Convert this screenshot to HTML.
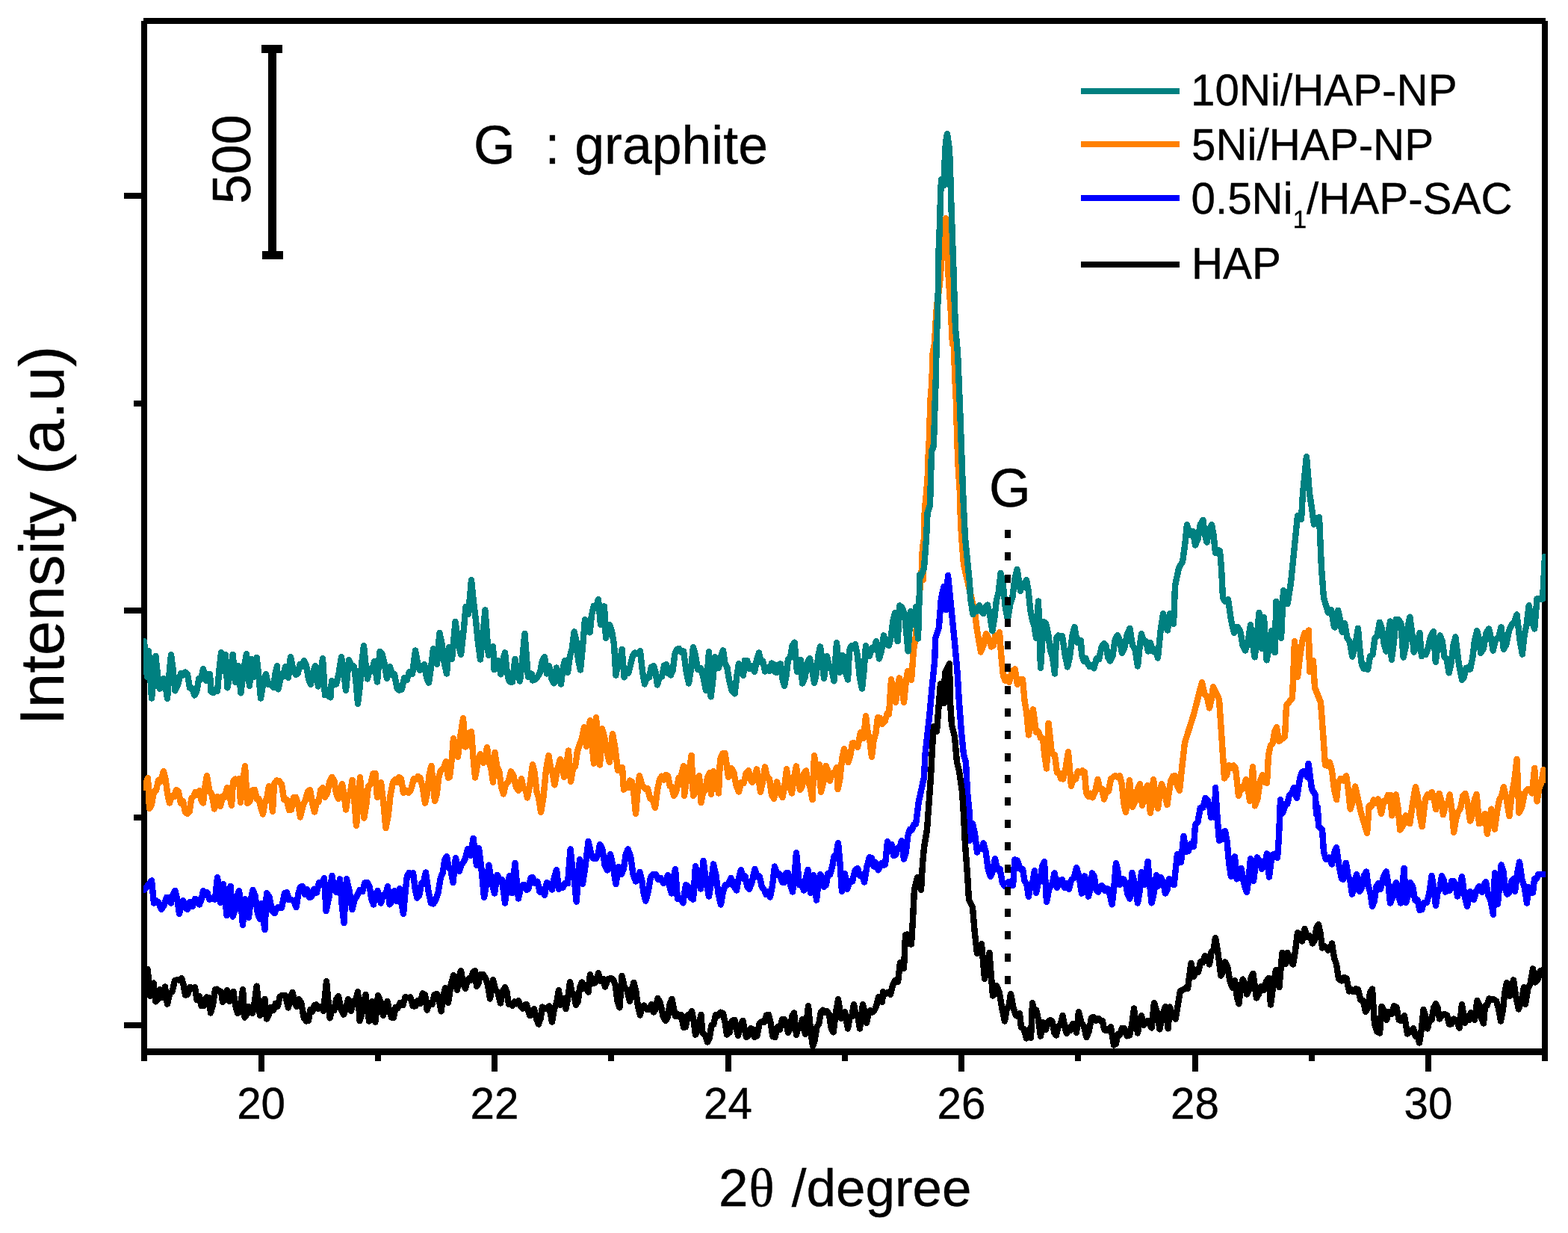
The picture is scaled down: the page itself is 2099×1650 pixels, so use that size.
<!DOCTYPE html>
<html><head><meta charset="utf-8"><title>XRD</title>
<style>
html,body{margin:0;padding:0;background:#fff;}
svg{display:block;}
text{font-family:"Liberation Sans",sans-serif;fill:#000;stroke:#000;stroke-width:0.4px;}
</style></head><body>
<svg width="2099" height="1650" viewBox="0 0 2099 1650">
<rect x="0" y="0" width="2099" height="1650" fill="#fff"/>

<g fill="#000" shape-rendering="crispEdges">
<rect x="189" y="28" width="8" height="1392"/>
<rect x="2064" y="28" width="8" height="1392"/>
<rect x="192" y="24" width="1877" height="8"/>
<rect x="189" y="1403" width="1883" height="9"/>
<rect x="346" y="1404" width="8" height="30"/>
<rect x="502" y="1404" width="8" height="16"/>
<rect x="658" y="1404" width="8" height="30"/>
<rect x="814" y="1404" width="8" height="16"/>
<rect x="971" y="1404" width="8" height="30"/>
<rect x="1127" y="1404" width="8" height="16"/>
<rect x="1283" y="1404" width="8" height="30"/>
<rect x="1439" y="1404" width="8" height="16"/>
<rect x="1596" y="1404" width="8" height="30"/>
<rect x="1752" y="1404" width="8" height="16"/>
<rect x="1908" y="1404" width="8" height="30"/>
<rect x="166" y="258" width="27" height="8"/>
<rect x="179" y="536" width="14" height="8"/>
<rect x="166" y="813" width="27" height="8"/>
<rect x="179" y="1090" width="14" height="8"/>
<rect x="166" y="1368" width="27" height="8"/>
<rect x="359" y="62" width="11" height="282"/>
<rect x="350" y="60" width="28" height="11"/>
<rect x="351" y="336" width="28" height="11"/>
<rect x="1447" y="118" width="132" height="8" fill="#008080"/>
<rect x="1447" y="189" width="132" height="8" fill="#ff8000"/>
<rect x="1447" y="261" width="132" height="8" fill="#0000ff"/>
<rect x="1447" y="350" width="132" height="8" fill="#000"/>
</g>
<clipPath id="cp"><rect x="192" y="28" width="1877" height="1384"/></clipPath>
<g clip-path="url(#cp)" fill="none" stroke-width="8.4" stroke-linejoin="round" stroke-linecap="round" shape-rendering="crispEdges">
<polyline stroke="#ff8000" points="193.0,1054.0 198.0,1041.0 200.0,1082.0 203.0,1076.7 206.0,1059.2 209.0,1057.9 212.0,1044.0 215.0,1046.0 219.0,1032.0 221.7,1043.3 224.3,1063.2 227.0,1074.6 230.0,1065.3 233.0,1066.3 236.0,1057.0 239.0,1059.4 242.0,1074.9 245.0,1072.1 248.0,1087.1 251.0,1089.0 253.7,1085.8 256.3,1068.5 259.0,1066.0 261.7,1059.9 264.3,1064.0 267.0,1058.0 269.5,1071.1 272.0,1074.6 274.5,1052.7 277.0,1038.0 280.3,1057.9 283.7,1063.5 287.0,1082.4 291.0,1066.0 295.0,1079.0 298.0,1065.5 301.0,1067.0 304.0,1054.0 307.0,1062.2 310.0,1078.0 312.0,1046.0 314.7,1042.5 317.3,1046.2 320.0,1042.0 322.0,1074.0 325.0,1046.5 328.0,1025.0 331.0,1075.0 334.3,1072.3 337.7,1057.6 341.0,1057.0 343.7,1069.1 346.3,1068.8 349.0,1080.0 352.0,1089.4 354.7,1073.1 357.3,1068.2 360.0,1052.0 362.5,1064.6 365.0,1086.0 367.0,1049.0 370.3,1044.5 373.6,1045.0 377.0,1049.6 380.3,1070.0 383.6,1069.7 387.0,1084.0 390.0,1083.5 393.0,1067.3 396.0,1067.0 399.0,1075.9 402.0,1093.4 405.5,1078.4 409.0,1070.0 412.0,1059.4 415.0,1057.0 418.0,1074.7 421.0,1086.6 423.8,1073.0 426.5,1073.3 429.2,1057.2 432.0,1054.0 435.0,1067.0 438.1,1061.2 441.3,1045.4 444.4,1040.0 447.3,1044.5 450.1,1062.2 453.0,1069.0 455.5,1056.1 458.0,1049.0 460.5,1062.5 463.0,1083.4 465.9,1064.8 468.7,1061.3 471.6,1044.0 474.3,1070.9 477.0,1105.0 479.5,1076.9 482.0,1040.0 484.7,1070.6 487.4,1094.6 490.2,1077.7 493.0,1052.0 496.2,1049.2 499.4,1035.5 502.6,1035.0 505.0,1067.0 507.5,1062.4 510.0,1047.0 513.2,1073.7 516.4,1108.0 519.6,1091.8 522.8,1062.8 526.0,1047.0 528.8,1043.2 531.5,1047.1 534.2,1040.1 537.0,1042.0 540.0,1061.0 543.3,1057.5 546.7,1060.9 550.0,1057.0 554.0,1042.0 556.8,1043.1 559.6,1039.1 562.4,1041.0 565.7,1053.5 569.0,1074.6 571.8,1062.0 574.6,1037.2 577.4,1025.0 582.0,1072.0 584.7,1062.8 587.3,1040.2 590.0,1031.0 593.5,1029.1 597.0,1019.0 600.0,1041.0 602.0,1040.0 604.5,1018.6 607.0,988.0 610.0,1005.0 613.0,1012.6 616.5,984.0 620.0,961.0 623.0,999.4 625.7,997.2 628.3,980.4 631.0,979.0 633.5,1013.7 636.0,1040.4 639.5,1021.1 643.0,1009.0 647.0,1021.0 649.5,1014.1 652.0,1000.0 654.7,1020.1 657.3,1027.8 660.0,1047.0 662.4,1007.0 665.3,1025.7 668.2,1031.9 671.1,1052.9 674.0,1062.4 677.3,1048.8 680.7,1045.8 684.0,1032.4 687.3,1037.5 690.7,1052.7 694.0,1058.0 698.0,1042.0 700.7,1055.1 703.3,1055.9 706.0,1067.4 709.5,1048.9 713.0,1023.0 715.8,1035.0 718.5,1060.1 721.2,1067.8 724.0,1087.0 727.5,1066.2 730.9,1031.1 734.4,1011.0 737.1,1027.5 739.7,1034.2 742.4,1050.4 746.2,1029.9 750.0,1016.0 752.5,1022.9 755.0,1040.0 758.0,1025.8 761.0,1004.6 764.0,1046.0 767.0,1029.0 770.0,1026.0 773.0,1004.8 776.0,996.0 779.0,988.1 782.0,973.0 785.0,999.0 787.5,978.0 790.0,964.0 792.5,996.7 795.0,1021.6 798.0,960.0 800.5,995.6 803.0,1023.4 806.0,975.0 809.3,986.8 812.7,1007.8 816.0,1020.0 820.0,982.0 823.5,1001.3 827.0,1031.0 830.0,1026.8 833.0,1027.0 835.0,1056.6 837.8,1049.5 840.5,1054.1 843.2,1044.6 846.0,1046.0 848.5,1062.9 851.0,1089.0 853.5,1060.0 856.0,1038.0 859.0,1049.4 862.0,1054.0 864.5,1056.3 867.0,1055.0 870.3,1068.6 873.7,1069.5 877.0,1081.0 880.0,1057.3 883.0,1043.0 885.8,1038.7 888.5,1043.6 891.2,1036.7 894.0,1038.0 896.7,1051.8 899.3,1052.8 902.0,1065.0 905.2,1059.6 908.5,1040.8 911.8,1038.9 915.0,1025.0 916.0,1065.0 919.2,1042.6 922.4,1032.7 925.6,1011.0 928.0,1065.0 930.7,1061.1 933.3,1042.9 936.0,1038.0 938.4,1074.0 941.3,1060.3 944.2,1057.3 947.1,1039.8 950.0,1034.0 952.0,1063.0 955.0,1032.0 958.5,1043.5 962.0,1061.4 964.0,1016.4 967.3,1008.3 970.6,1008.0 975.0,1040.0 979.0,1028.0 982.3,1033.5 985.7,1051.7 989.0,1059.4 992.2,1047.2 995.5,1048.1 998.8,1034.6 1002.0,1031.0 1004.5,1043.2 1007.0,1047.0 1010.0,1042.3 1013.0,1029.4 1015.5,1041.9 1018.0,1060.0 1021.0,1046.3 1024.0,1026.4 1027.0,1040.0 1030.0,1042.3 1033.0,1063.4 1036.0,1069.0 1040.0,1046.4 1043.8,1060.8 1047.6,1067.0 1050.3,1051.8 1053.0,1029.4 1056.5,1049.9 1060.0,1061.4 1063.0,1039.7 1066.0,1025.4 1068.5,1044.9 1071.0,1057.0 1073.7,1052.7 1076.3,1035.2 1079.0,1031.4 1081.9,1047.2 1084.7,1053.9 1087.6,1070.0 1090.0,1011.4 1094.0,1040.0 1097.0,1023.0 1099.0,1060.0 1102.3,1046.9 1105.6,1025.0 1108.3,1031.2 1111.0,1045.0 1114.0,1034.5 1117.0,1036.9 1120.0,1027.0 1121.6,1056.0 1124.4,1042.1 1127.2,1015.3 1130.0,1002.0 1132.8,1015.7 1135.6,1020.0 1138.3,1010.7 1141.0,994.6 1144.5,994.5 1148.0,1000.0 1152.0,980.0 1156.0,988.0 1159.0,958.0 1161.7,980.3 1164.3,990.7 1167.0,1013.0 1169.7,990.0 1172.3,981.4 1175.0,960.0 1178.0,960.7 1181.0,969.0 1184.5,965.5 1188.0,954.0 1190.0,956.0 1193.0,909.4 1196.0,929.7 1199.0,940.0 1201.5,918.5 1204.0,907.4 1207.0,919.1 1210.0,940.0 1212.5,914.7 1215.0,898.0 1217.5,908.0 1220.0,910.0 1223.0,870.0 1226.0,850.0 1234.0,760.0 1235.0,730.0 1236.0,776.0 1237.0,700.0 1238.0,680.0 1240.0,660.0 1241.6,640.0 1243.0,600.0 1244.4,580.0 1245.0,540.0 1247.6,510.0 1248.0,476.0 1251.0,460.0 1252.0,440.0 1254.0,410.0 1258.0,380.0 1261.0,340.0 1264.0,304.0 1266.0,292.0 1268.0,320.0 1269.0,360.0 1271.0,390.0 1273.0,420.0 1275.0,460.0 1277.0,460.0 1278.0,500.0 1280.0,540.0 1281.0,580.0 1282.4,620.0 1285.0,660.0 1286.0,700.0 1288.0,730.0 1290.0,756.0 1292.0,764.0 1305.0,820.0 1308.0,844.0 1313.0,872.4 1316.5,863.3 1320.0,848.0 1323.5,853.9 1327.0,865.6 1329.8,863.7 1332.5,850.6 1335.2,854.1 1338.0,846.0 1340.5,880.1 1343.0,904.0 1345.7,910.9 1348.3,906.4 1351.0,913.0 1354.8,898.8 1358.6,895.4 1362.0,916.0 1365.5,909.4 1369.0,909.4 1371.7,938.9 1374.3,954.6 1377.0,983.4 1380.0,963.4 1383.0,949.4 1387.0,980.0 1390.0,978.8 1393.0,987.5 1396.0,988.0 1398.5,1012.5 1401.0,1028.4 1403.6,968.0 1408.0,1008.0 1412.0,1010.4 1415.0,1034.0 1417.7,1034.3 1420.3,1042.0 1423.0,1042.4 1426.5,1028.6 1430.0,1006.0 1434.0,1052.0 1437.0,1041.5 1440.0,1042.4 1443.0,1032.0 1446.0,1034.1 1449.0,1031.3 1452.0,1033.4 1454.0,1061.0 1456.8,1065.8 1459.6,1061.7 1462.4,1067.4 1466.0,1060.0 1469.6,1043.0 1472.4,1056.4 1475.2,1055.8 1478.0,1069.4 1481.0,1057.9 1484.0,1058.8 1487.0,1042.8 1490.0,1040.0 1493.0,1037.9 1496.0,1040.0 1499.0,1038.0 1501.7,1049.1 1504.3,1074.8 1507.0,1087.0 1509.5,1070.2 1512.0,1044.0 1516.0,1080.0 1519.3,1073.2 1522.7,1056.0 1526.0,1049.0 1529.0,1078.0 1532.5,1060.9 1536.0,1051.0 1540.0,1088.0 1544.0,1043.0 1547.0,1067.2 1550.0,1082.0 1552.5,1061.9 1555.0,1049.0 1558.7,1059.1 1562.4,1077.0 1567.0,1046.0 1570.0,1038.8 1573.0,1038.0 1576.0,1051.3 1579.0,1058.0 1583.0,1020.0 1586.0,994.0 1598.0,956.0 1609.0,913.0 1612.3,928.5 1615.7,932.1 1619.0,947.4 1621.5,936.9 1624.0,919.0 1632.0,936.0 1635.0,980.0 1639.0,1041.4 1642.0,1037.6 1645.0,1024.0 1648.0,1028.3 1651.0,1024.4 1654.0,1028.0 1658.0,1065.0 1661.3,1053.6 1664.7,1055.4 1668.0,1043.0 1670.5,1053.2 1673.0,1072.0 1677.0,1026.0 1680.0,1078.4 1683.3,1069.3 1686.7,1045.7 1690.0,1037.0 1693.0,1046.6 1696.0,1048.0 1698.0,1011.0 1700.8,997.5 1703.5,995.4 1706.2,979.1 1709.0,973.0 1712.0,992.0 1720.0,986.0 1722.0,944.0 1730.0,934.0 1733.0,858.0 1737.0,906.0 1740.5,875.9 1744.0,855.0 1746.7,846.7 1749.3,850.4 1752.0,843.6 1753.0,899.0 1755.5,895.0 1758.0,884.0 1760.0,920.0 1768.0,940.0 1771.0,980.0 1774.0,1024.0 1777.0,1024.6 1780.0,1020.0 1783.0,1031.1 1786.0,1056.1 1789.0,1069.0 1789.1,1070.2 1791.3,1047.7 1794.9,1041.7 1798.6,1044.5 1802.2,1038.3 1804.9,1057.5 1807.6,1082.6 1810.9,1072.6 1814.2,1052.5 1821.8,1087.3 1830.1,1114.9 1832.7,1078.2 1835.7,1078.9 1838.7,1070.5 1841.7,1075.2 1844.7,1069.5 1849.1,1088.8 1852.4,1072.1 1855.3,1072.1 1858.2,1063.8 1861.1,1064.0 1863.3,1091.4 1866.0,1080.7 1868.7,1063.4 1871.5,1081.6 1874.2,1110.6 1878.0,1105.2 1881.8,1091.3 1884.6,1099.8 1887.3,1102.3 1891.1,1074.6 1894.9,1053.1 1897.8,1065.6 1900.7,1091.5 1903.7,1106.2 1908.0,1069.5 1910.9,1063.4 1913.8,1067.1 1916.7,1060.1 1919.5,1068.1 1922.2,1083.3 1926.6,1061.8 1929.3,1071.5 1932.0,1090.3 1934.9,1077.8 1937.8,1077.2 1940.7,1063.4 1943.5,1084.0 1946.2,1113.8 1948.9,1097.3 1951.7,1086.9 1954.9,1082.3 1958.2,1065.5 1961.5,1061.8 1964.7,1075.9 1968.0,1098.6 1970.9,1091.2 1973.8,1070.3 1976.7,1062.9 1980.0,1102.3 1983.8,1100.7 1987.7,1089.1 1990.9,1116.0 1993.7,1096.2 1996.4,1082.6 2000.8,1109.5 2004.0,1086.3 2007.3,1069.5 2010.0,1066.0 2012.8,1053.1 2016.6,1068.3 2020.4,1092.0 2023.8,1062.7 2027.2,1045.0 2030.6,1016.0 2033.5,1087.7 2037.1,1080.2 2040.8,1062.1 2044.4,1056.4 2047.7,1056.4 2050.9,1061.5 2054.2,1028.0 2057.5,1072.4 2060.4,1054.6 2063.3,1047.7 2066.2,1030.2 2068.4,1043.7"/>
<polyline stroke="#008080" points="193.0,858.0 197.0,906.0 199.0,871.0 203.0,934.4 205.7,909.2 208.4,878.0 211.0,903.0 213.6,921.6 216.3,918.6 219.0,908.0 221.5,916.5 224.0,935.0 226.5,902.1 229.0,876.0 231.7,896.7 234.4,924.4 238.2,915.7 242.0,901.0 245.0,903.5 248.0,899.6 251.0,902.0 254.0,920.4 257.2,921.3 260.4,930.4 263.3,925.2 266.2,908.2 269.1,908.6 272.0,895.0 276.0,911.0 278.5,902.5 281.0,902.0 282.4,925.4 285.3,927.0 288.1,923.4 291.0,925.0 293.5,896.0 296.0,873.4 299.6,898.0 302.0,876.0 304.4,920.4 308.0,901.2 311.6,876.0 315.0,913.0 319.0,891.0 322.4,927.4 326.2,896.1 330.0,875.0 334.0,918.0 337.0,882.0 340.0,906.0 343.6,880.0 346.3,903.6 349.0,934.4 352.5,913.9 356.0,902.0 359.0,916.0 362.5,915.2 366.0,920.0 368.5,901.6 371.0,891.0 372.4,922.4 375.6,908.3 378.8,905.3 382.0,892.0 386.0,907.0 389.0,879.0 392.5,896.0 396.0,903.0 398.8,901.1 401.5,889.0 404.2,892.3 407.0,884.0 410.0,890.5 413.0,908.8 416.0,915.6 419.0,900.0 422.0,891.0 426.0,918.4 429.0,903.0 432.0,881.0 435.0,930.0 438.7,929.9 442.4,933.4 444.0,911.0 447.0,916.1 450.0,915.6 453.5,901.6 457.0,879.0 460.0,898.5 463.0,924.0 467.0,883.0 470.5,890.1 474.0,892.0 476.5,912.4 479.0,941.6 481.7,919.4 484.3,886.6 487.0,864.0 489.5,889.1 492.0,908.4 495.0,895.4 498.0,898.2 501.0,885.0 505.0,912.4 508.4,872.0 511.7,875.6 515.0,890.0 518.0,908.0 522.0,892.0 525.1,903.4 528.2,902.4 531.3,920.6 534.4,923.6 537.8,922.8 541.2,906.8 544.6,910.1 548.0,899.0 552.0,902.0 556.0,870.6 559.0,887.1 562.0,897.0 565.0,895.3 568.0,889.0 571.0,906.7 574.0,913.6 577.0,893.6 580.0,868.0 582.5,881.7 585.0,889.0 588.4,847.0 591.6,861.5 594.8,886.9 598.0,901.6 598.0,901.6 601.0,866.0 605.0,882.0 609.6,832.0 613.3,859.4 617.0,876.0 620.3,847.3 623.6,812.0 627.0,822.0 631.0,776.0 634.0,805.9 637.0,830.0 640.0,860.8 643.0,882.4 646.2,852.3 649.4,816.4 654.0,877.0 657.0,874.1 660.0,865.0 661.6,896.0 664.3,887.2 667.0,884.0 670.4,902.4 673.2,883.0 676.0,873.4 678.5,897.2 681.0,910.0 683.5,912.8 686.0,912.4 689.4,882.0 692.7,899.6 696.0,911.4 699.2,883.1 702.4,848.0 707.0,906.0 709.5,901.3 712.0,902.0 713.0,910.4 716.5,909.4 720.0,905.0 723.0,899.7 726.0,884.3 729.0,879.0 732.0,901.4 735.0,891.0 738.3,907.8 741.6,914.4 745.0,893.6 748.0,907.4 751.0,915.4 753.5,895.4 756.0,884.0 760.0,900.0 762.9,877.9 765.7,868.8 768.6,845.4 771.4,857.5 774.2,884.2 777.0,896.4 780.0,865.7 783.0,829.0 786.3,842.9 789.6,846.4 792.0,823.0 795.0,810.7 798.0,812.7 801.0,802.0 804.0,836.0 806.5,818.8 809.0,811.4 811.0,854.0 813.5,840.0 816.0,836.0 819.0,844.4 822.0,862.0 824.4,903.6 827.1,888.6 829.9,885.8 832.6,869.0 835.6,906.4 838.4,898.0 841.2,900.9 844.0,890.0 847.0,877.2 850.0,873.6 853.5,874.9 857.0,871.4 860.0,898.8 863.0,915.4 866.0,906.4 869.0,906.4 872.0,892.6 875.0,891.0 877.5,898.9 880.0,916.4 883.0,906.2 886.0,905.5 889.0,890.6 892.0,889.0 895.0,901.4 898.0,903.4 900.7,896.9 903.3,875.6 906.0,869.0 909.0,867.8 912.0,873.0 915.0,871.4 918.5,897.5 922.0,914.4 925.0,895.4 928.0,866.0 931.0,877.0 934.0,896.0 938.0,894.0 941.5,906.2 945.0,924.0 949.0,872.4 951.6,932.4 954.3,910.3 957.0,879.4 959.5,891.8 962.0,894.0 965.0,879.1 968.0,870.4 970.7,888.5 973.3,892.6 976.0,910.0 979.8,924.3 983.6,928.4 986.3,905.2 989.0,888.0 992.0,892.2 995.0,904.0 997.0,884.0 1000.2,884.1 1003.5,894.9 1006.8,891.2 1010.0,899.0 1013.0,883.3 1016.0,873.6 1018.7,886.3 1021.3,884.9 1024.0,898.4 1027.0,892.9 1030.0,897.7 1033.0,887.5 1036.0,889.0 1037.0,899.0 1039.7,899.8 1042.3,889.2 1045.0,888.4 1047.5,908.3 1050.0,918.0 1052.5,904.9 1055.0,882.0 1057.9,879.7 1060.7,863.8 1063.6,859.6 1067.0,899.0 1069.5,895.1 1072.0,883.0 1074.0,914.4 1077.3,907.5 1080.7,886.9 1084.0,881.0 1087.0,894.7 1090.0,914.0 1092.7,902.0 1095.3,877.5 1098.0,865.4 1100.5,882.6 1103.0,908.0 1107.0,878.0 1110.1,892.6 1113.3,895.2 1116.4,911.4 1120.0,860.4 1124.0,900.0 1128.0,877.0 1131.5,898.2 1135.0,909.6 1137.0,870.0 1139.7,864.3 1142.3,868.2 1145.0,862.4 1148.0,878.5 1151.0,907.0 1154.0,921.4 1156.5,898.0 1159.0,864.0 1161.5,876.1 1164.0,878.0 1167.0,866.9 1170.0,868.6 1173.0,858.0 1177.0,881.4 1180.0,870.8 1183.0,850.4 1186.5,861.7 1190.0,864.0 1192.7,852.3 1195.3,831.5 1198.0,820.0 1201.6,858.0 1204.4,810.4 1207.7,813.3 1211.0,822.0 1215.6,871.4 1219.0,818.0 1221.5,823.2 1224.0,836.0 1226.0,812.0 1229.0,854.4 1230.6,800.0 1231.0,790.0 1231.0,769.0 1232.4,772.0 1237.0,760.0 1240.0,720.0 1241.6,686.0 1245.0,676.0 1246.0,640.0 1247.0,604.0 1249.6,598.0 1250.4,580.0 1251.6,540.0 1253.0,500.0 1253.6,460.0 1255.0,420.0 1256.0,380.0 1256.4,340.0 1258.0,300.0 1259.0,264.0 1260.0,240.0 1264.0,248.0 1264.4,220.0 1266.0,190.0 1268.0,179.0 1271.0,200.0 1272.4,240.0 1273.6,280.0 1275.0,320.0 1276.4,360.0 1277.6,400.0 1279.0,440.0 1281.0,460.0 1282.4,480.0 1284.0,520.0 1285.6,560.0 1287.0,600.0 1288.4,640.0 1290.0,680.0 1292.0,720.0 1295.0,750.0 1298.0,780.0 1299.0,800.0 1302.4,822.0 1305.3,814.6 1308.1,818.1 1311.0,810.0 1313.7,818.8 1316.4,821.0 1319.2,812.4 1322.0,809.6 1325.2,823.4 1328.4,844.4 1331.2,827.9 1334.0,802.9 1336.8,791.7 1339.6,767.0 1342.7,782.7 1345.9,813.3 1349.0,829.0 1352.2,809.1 1355.3,799.9 1358.4,774.6 1361.6,762.0 1366.0,791.0 1368.7,780.7 1371.3,785.8 1374.0,776.0 1376.7,790.9 1379.3,816.5 1382.0,830.0 1384.5,837.2 1387.0,854.0 1390.0,804.6 1393.0,893.6 1397.0,832.0 1400.0,834.5 1403.0,847.0 1406.0,870.4 1409.0,879.4 1412.0,901.4 1414.0,854.0 1416.7,850.4 1419.3,854.3 1422.0,851.0 1425.5,875.1 1429.0,892.4 1432.1,879.1 1435.3,851.3 1438.4,839.0 1442.0,860.0 1444.5,856.6 1447.0,857.0 1448.0,876.0 1450.7,884.5 1453.3,880.8 1456.0,888.0 1458.8,892.0 1461.6,890.1 1464.4,894.4 1467.8,881.4 1471.2,882.1 1474.6,865.6 1478.0,861.0 1480.7,864.3 1483.3,879.8 1486.0,884.4 1489.3,878.4 1492.7,856.0 1496.0,850.0 1499.0,857.6 1502.0,874.0 1505.5,866.0 1508.9,848.5 1512.4,841.0 1515.9,863.1 1519.5,869.4 1523.0,891.4 1525.5,866.5 1528.0,848.0 1531.0,859.4 1534.0,858.2 1537.0,871.4 1540.0,860.0 1543.3,871.7 1546.7,869.0 1550.0,880.4 1553.5,845.3 1557.0,821.0 1560.0,836.4 1563.0,843.4 1566.0,821.0 1568.5,831.0 1571.0,835.0 1573.0,784.0 1578.0,760.0 1583.0,752.0 1586.0,730.6 1589.0,702.0 1593.0,716.0 1597.0,711.0 1600.0,729.6 1603.5,721.3 1606.9,701.7 1610.4,696.0 1613.0,716.0 1615.6,725.6 1618.8,709.0 1622.0,702.0 1624.5,715.6 1627.0,740.0 1630.0,736.1 1633.0,737.0 1635.0,760.0 1637.0,800.0 1640.0,805.0 1644.0,802.0 1648.0,830.0 1652.0,847.0 1654.5,839.6 1657.0,839.0 1660.3,845.2 1663.7,864.1 1667.0,870.4 1670.5,858.5 1674.0,836.4 1676.8,860.8 1679.6,879.4 1682.5,854.9 1685.4,820.0 1689.0,868.0 1692.0,826.0 1695.6,883.4 1698.8,867.5 1702.0,844.0 1706.6,873.0 1708.4,805.0 1711.7,824.4 1715.0,854.0 1718.0,790.0 1720.8,802.8 1723.6,808.0 1728.0,780.0 1730.0,760.0 1737.0,690.0 1739.5,694.2 1742.0,695.0 1744.0,660.0 1749.0,611.0 1753.0,660.0 1756.0,680.0 1759.0,701.6 1762.5,694.6 1766.0,692.0 1769.0,760.0 1772.0,800.0 1778.0,820.0 1782.0,816.0 1786.0,839.0 1786.9,839.4 1791.0,817.0 1791.3,817.0 1793.6,827.3 1796.0,844.0 1796.7,845.5 1800.0,833.8 1803.4,853.8 1806.8,858.7 1810.3,878.6 1814.1,864.0 1817.9,840.8 1820.4,869.7 1822.9,889.1 1825.6,894.8 1828.3,890.0 1831.0,896.1 1834.2,878.1 1837.4,876.1 1840.5,854.3 1843.7,850.5 1846.9,832.7 1849.8,841.3 1852.7,861.7 1855.6,871.6 1858.4,846.4 1861.1,831.6 1862.8,882.6 1865.8,860.3 1868.7,829.0 1872.0,828.9 1875.3,833.8 1878.6,879.7 1881.5,866.2 1884.4,840.3 1887.3,825.7 1890.0,844.7 1892.7,872.7 1896.6,865.0 1900.4,846.9 1903.0,878.2 1905.8,872.1 1908.5,875.9 1911.3,868.7 1915.1,851.7 1918.9,845.2 1921.8,885.8 1924.7,863.4 1927.7,850.2 1930.7,858.3 1933.7,879.5 1936.7,882.4 1939.7,900.4 1942.6,887.4 1945.5,863.7 1948.4,852.4 1952.7,886.9 1957.1,909.8 1959.8,906.1 1962.6,893.8 1965.3,893.2 1968.0,895.6 1971.1,881.5 1974.1,856.5 1977.2,844.3 1979.7,854.4 1982.2,873.8 1985.8,868.5 1989.5,847.2 1993.1,841.5 1995.8,853.3 1998.6,870.6 2002.2,855.7 2005.8,854.2 2009.5,839.3 2012.8,868.8 2016.4,862.6 2020.0,844.1 2023.7,836.0 2027.2,832.3 2030.6,822.5 2034.2,854.2 2037.8,875.6 2040.8,848.8 2043.7,835.6 2046.6,810.3 2050.4,830.3 2054.2,841.5 2057.5,801.5 2065.1,801.5 2068.0,744.7"/>
<polyline stroke="#0000ff" points="193.0,1191.0 203.0,1178.4 206.0,1208.4 209.0,1205.4 212.0,1207.0 216.0,1217.0 219.5,1212.0 223.0,1201.0 226.0,1201.4 229.0,1208.4 231.7,1196.6 234.4,1192.0 237.2,1203.1 240.0,1223.0 242.5,1210.8 245.0,1205.0 248.0,1214.5 251.0,1217.0 254.3,1206.8 257.7,1213.0 261.0,1203.0 264.0,1203.9 267.0,1210.4 269.5,1204.0 272.0,1192.0 274.8,1198.2 277.5,1194.4 280.2,1203.5 283.0,1203.0 285.5,1201.7 288.0,1203.6 291.0,1174.0 295.0,1208.0 299.0,1183.0 303.6,1225.0 306.1,1202.1 308.6,1186.0 311.6,1226.6 314.4,1218.7 317.2,1200.4 320.0,1192.0 322.5,1209.3 325.0,1237.6 328.0,1203.0 330.5,1212.2 333.0,1228.0 335.7,1204.6 338.4,1191.0 341.6,1198.8 344.8,1221.8 348.0,1230.0 350.0,1209.0 354.4,1244.0 357.0,1195.0 360.5,1200.3 364.1,1218.4 367.6,1222.0 370.0,1215.7 372.4,1214.0 377.0,1215.0 381.0,1195.0 384.0,1194.4 387.0,1204.1 390.0,1204.0 393.3,1205.6 396.6,1214.0 399.3,1196.4 402.0,1187.0 405.0,1186.0 408.0,1197.1 411.0,1189.8 414.0,1201.2 417.0,1200.0 420.4,1189.7 423.8,1194.7 427.2,1180.9 430.6,1183.4 434.0,1175.0 436.6,1219.0 440.5,1200.2 444.4,1172.0 447.2,1188.2 450.0,1194.0 452.5,1190.5 455.0,1176.4 457.7,1211.1 460.4,1235.0 464.0,1176.4 467.8,1192.6 471.6,1217.0 474.8,1203.5 478.0,1199.0 481.5,1190.9 485.0,1193.3 488.5,1181.3 492.0,1181.0 494.7,1186.3 497.3,1203.6 500.0,1210.4 502.8,1196.5 505.6,1192.0 510.0,1208.4 513.0,1197.7 516.0,1198.3 519.0,1186.0 521.6,1210.4 524.8,1205.7 528.0,1192.0 531.0,1206.0 535.0,1189.0 537.5,1209.4 540.0,1223.0 542.5,1194.5 545.0,1172.0 547.7,1167.9 550.3,1171.2 553.0,1168.0 555.7,1190.0 558.4,1201.6 561.3,1197.8 564.2,1181.8 567.1,1179.8 570.0,1167.6 573.5,1192.6 577.0,1208.4 580.0,1209.5 583.0,1205.0 586.5,1194.3 590.0,1174.0 592.7,1168.1 595.3,1150.3 598.0,1146.0 600.8,1160.9 603.6,1164.7 606.4,1181.0 610.0,1148.0 612.5,1159.9 615.0,1166.0 617.5,1157.1 620.0,1154.0 623.0,1148.7 626.0,1136.0 630.0,1145.0 633.6,1122.0 638.0,1158.0 641.0,1135.0 644.5,1163.2 648.0,1201.0 651.2,1183.0 654.4,1157.6 658.2,1180.6 662.0,1195.6 665.6,1171.0 670.0,1180.0 672.0,1177.0 676.0,1208.4 679.0,1185.4 682.0,1172.0 685.6,1195.0 689.4,1155.0 694.0,1202.4 697.0,1188.4 700.0,1184.0 702.5,1184.3 705.0,1191.0 707.7,1188.7 710.3,1175.1 713.0,1174.0 716.2,1181.8 719.4,1179.6 722.6,1193.6 725.8,1190.1 729.0,1198.0 732.0,1181.0 735.5,1182.7 739.0,1190.4 742.0,1174.1 745.0,1164.0 748.0,1190.0 750.7,1184.8 753.3,1187.9 756.0,1182.0 760.0,1182.0 763.6,1136.4 766.3,1162.6 768.9,1178.9 771.6,1206.6 776.0,1150.0 780.0,1183.0 783.8,1157.4 787.6,1126.0 792.0,1146.0 795.0,1149.1 798.0,1149.0 800.5,1144.0 803.0,1130.0 806.3,1136.0 809.7,1158.3 813.0,1164.4 817.0,1143.0 820.7,1159.6 824.4,1183.0 828.0,1160.0 832.0,1170.0 834.9,1162.2 837.7,1143.2 840.6,1136.4 844.1,1145.8 847.5,1169.8 851.0,1179.4 853.7,1176.8 856.4,1167.0 859.1,1177.1 861.7,1195.6 864.4,1205.6 867.7,1192.9 871.0,1174.0 874.3,1170.1 877.6,1170.0 881.1,1177.0 884.5,1174.9 888.0,1182.0 891.0,1180.1 894.0,1171.0 896.5,1186.9 899.0,1195.6 901.5,1176.0 904.0,1163.0 907.0,1203.0 910.7,1202.4 914.4,1208.4 918.0,1184.0 921.3,1186.6 924.7,1201.2 928.0,1203.6 931.0,1159.0 934.5,1171.4 938.0,1189.6 941.6,1152.0 945.3,1180.0 949.0,1199.6 952.0,1181.0 955.0,1156.4 958.3,1170.6 961.7,1196.6 965.0,1210.4 968.0,1192.8 971.0,1184.0 974.8,1183.7 978.6,1175.0 982.3,1186.0 986.0,1191.4 989.0,1174.7 992.0,1164.0 994.8,1175.6 997.5,1172.4 1000.2,1186.3 1003.0,1190.0 1006.7,1180.4 1010.4,1163.0 1013.5,1173.3 1016.7,1172.6 1019.9,1187.0 1023.0,1191.0 1025.7,1197.1 1028.3,1193.1 1031.0,1200.4 1034.0,1184.8 1037.0,1159.6 1040.3,1170.9 1043.7,1169.6 1047.0,1180.4 1049.7,1180.7 1052.3,1168.6 1055.0,1168.0 1058.0,1183.9 1061.0,1193.6 1063.5,1172.4 1066.0,1141.0 1070.0,1184.0 1073.0,1183.9 1076.0,1191.4 1078.8,1174.9 1081.6,1164.0 1085.0,1195.0 1089.0,1171.0 1093.0,1204.6 1095.5,1182.4 1098.0,1170.0 1100.5,1174.4 1103.0,1187.0 1105.8,1184.3 1108.5,1168.6 1111.2,1170.2 1114.0,1160.0 1116.7,1145.3 1119.3,1144.0 1122.0,1128.0 1124.5,1155.0 1127.0,1192.6 1131.0,1169.0 1134.0,1190.0 1137.5,1179.4 1141.0,1179.4 1144.5,1164.9 1148.0,1162.0 1151.0,1172.1 1154.0,1169.8 1157.0,1180.6 1160.5,1159.4 1164.0,1147.0 1166.9,1148.3 1169.8,1159.4 1172.7,1154.6 1175.6,1164.4 1180.0,1155.0 1182.5,1157.8 1185.0,1157.0 1188.0,1126.0 1190.8,1133.5 1193.5,1129.8 1196.2,1145.0 1199.0,1144.0 1201.7,1134.6 1204.3,1134.9 1207.0,1125.0 1210.0,1149.6 1212.7,1141.0 1215.3,1118.6 1218.0,1110.0 1220.7,1110.5 1223.3,1103.2 1226.0,1103.0 1229.6,1074.0 1237.0,1040.0 1238.4,1010.0 1244.0,960.0 1247.6,920.0 1251.2,884.0 1252.2,854.0 1256.8,840.0 1260.0,800.0 1263.6,785.0 1266.6,816.0 1269.0,770.0 1274.0,820.0 1278.0,860.0 1281.6,900.0 1284.0,940.0 1287.0,980.0 1290.0,1010.0 1293.0,1020.0 1295.0,1060.0 1298.0,1090.0 1298.0,1125.0 1302.0,1102.0 1305.0,1115.8 1308.0,1140.4 1310.8,1133.7 1313.6,1136.2 1316.4,1128.4 1319.6,1139.8 1322.8,1163.3 1326.0,1173.0 1329.0,1165.7 1332.0,1149.0 1335.2,1163.7 1338.5,1162.6 1341.8,1181.1 1345.0,1186.0 1347.5,1185.5 1350.0,1180.0 1353.0,1185.1 1356.0,1185.0 1358.4,1150.4 1361.9,1151.6 1365.5,1162.7 1369.0,1163.0 1371.7,1179.2 1374.3,1183.0 1377.0,1200.0 1379.7,1183.6 1382.3,1180.7 1385.0,1165.0 1387.0,1195.0 1389.8,1180.8 1392.5,1178.8 1395.2,1158.9 1398.0,1153.0 1401.0,1207.0 1404.5,1189.0 1408.1,1184.6 1411.6,1168.4 1415.0,1188.0 1419.0,1178.0 1422.0,1177.5 1425.0,1187.9 1428.0,1181.9 1431.0,1189.6 1434.3,1177.3 1437.7,1174.6 1441.0,1161.0 1444.5,1173.1 1448.0,1195.6 1452.0,1172.4 1454.5,1181.0 1457.0,1199.6 1459.5,1189.3 1462.0,1168.4 1464.7,1172.4 1467.3,1190.4 1470.0,1193.6 1472.5,1187.0 1475.0,1185.0 1479.0,1192.0 1481.5,1188.8 1484.0,1190.0 1488.6,1210.4 1491.3,1187.5 1494.0,1155.0 1496.5,1166.2 1499.0,1184.0 1501.5,1178.0 1504.0,1176.4 1506.8,1181.2 1509.6,1197.3 1512.4,1202.6 1515.6,1168.0 1519.3,1184.2 1523.0,1208.4 1525.5,1193.1 1528.0,1167.0 1532.4,1184.0 1536.6,1153.0 1539.1,1183.5 1541.6,1208.4 1544.8,1194.8 1548.0,1171.0 1550.0,1186.0 1554.0,1174.0 1557.0,1180.0 1560.0,1195.6 1562.5,1190.4 1565.0,1176.0 1568.3,1182.5 1571.6,1184.0 1576.0,1143.0 1578.5,1146.1 1581.0,1154.0 1584.4,1119.0 1588.0,1140.0 1591.0,1138.7 1594.0,1129.0 1598.0,1133.0 1600.0,1104.0 1603.4,1099.8 1606.8,1081.1 1610.2,1080.9 1613.6,1068.0 1616.8,1071.1 1620.0,1084.0 1621.0,1094.0 1623.5,1092.9 1626.0,1094.0 1627.0,1054.0 1629.5,1093.1 1632.0,1124.6 1634.7,1123.7 1637.3,1113.6 1640.0,1112.0 1642.7,1126.9 1645.3,1156.4 1648.0,1173.0 1650.5,1155.9 1653.0,1146.4 1655.6,1176.4 1658.6,1174.3 1661.6,1162.0 1665.3,1182.5 1669.0,1194.0 1671.5,1175.7 1674.0,1149.0 1678.0,1179.0 1680.5,1160.2 1683.0,1147.4 1686.0,1151.6 1689.0,1163.0 1692.0,1160.0 1696.0,1142.4 1699.0,1173.6 1701.5,1153.7 1704.0,1143.6 1707.0,1143.6 1710.0,1148.0 1712.0,1120.0 1714.0,1070.0 1715.0,1090.0 1718.0,1086.0 1720.7,1075.7 1723.3,1075.8 1726.0,1064.0 1729.0,1062.4 1732.0,1054.0 1736.0,1068.0 1740.0,1042.0 1743.0,1033.0 1746.0,1032.0 1750.0,1040.0 1751.6,1022.0 1756.0,1056.0 1761.0,1064.0 1762.0,1090.0 1764.0,1080.0 1765.0,1106.0 1770.0,1110.0 1772.0,1140.0 1775.0,1150.0 1779.0,1147.6 1783.0,1156.4 1786.0,1141.6 1789.0,1134.0 1792.5,1159.0 1796.0,1176.0 1798.0,1177.0 1801.6,1155.0 1802.0,1155.0 1804.7,1172.4 1807.3,1177.3 1810.0,1196.6 1813.0,1188.3 1816.0,1170.0 1820.0,1193.0 1823.0,1187.9 1826.0,1171.6 1829.0,1166.4 1831.7,1185.9 1834.3,1194.3 1837.0,1213.0 1839.7,1206.2 1842.3,1187.1 1845.0,1182.0 1848.0,1190.0 1851.8,1174.2 1855.6,1166.4 1858.3,1182.1 1861.0,1208.4 1863.7,1202.3 1866.3,1186.7 1869.0,1181.0 1872.0,1199.3 1875.0,1208.4 1879.6,1162.0 1882.0,1208.0 1885.0,1198.2 1888.0,1181.0 1891.2,1186.9 1894.3,1204.5 1897.4,1204.3 1900.6,1218.0 1903.3,1217.1 1906.0,1208.0 1910.0,1208.0 1913.3,1195.2 1916.6,1172.0 1919.3,1187.9 1922.0,1212.0 1924.7,1193.3 1927.3,1190.1 1930.0,1172.0 1932.5,1177.7 1935.0,1193.6 1937.8,1185.1 1940.5,1191.7 1943.2,1179.1 1946.0,1179.0 1948.5,1184.7 1951.0,1199.6 1954.0,1190.1 1957.0,1173.0 1960.5,1198.4 1964.0,1213.0 1968.0,1193.0 1970.5,1202.0 1973.0,1204.0 1976.5,1191.7 1980.0,1186.0 1984.0,1194.0 1986.5,1183.9 1989.0,1180.0 1992.3,1198.4 1995.7,1205.6 1999.0,1224.0 2001.0,1168.0 2005.0,1210.0 2009.6,1157.4 2012.3,1165.3 2014.9,1188.4 2017.6,1196.6 2020.4,1194.0 2023.2,1179.5 2026.0,1176.0 2028.0,1193.0 2031.0,1169.5 2034.0,1153.6 2037.3,1176.4 2040.7,1187.0 2044.0,1208.4 2046.0,1187.0 2049.0,1194.4 2052.0,1194.4 2054.0,1176.4 2056.7,1176.3 2059.3,1170.0 2062.0,1170.0 2069.0,1170.0"/>
<polyline stroke="#000000" points="193.0,1298.0 197.6,1297.0 201.0,1333.0 205.6,1315.6 208.4,1340.4 211.2,1337.3 214.0,1324.0 217.0,1335.0 221.0,1320.6 224.0,1343.6 227.3,1329.6 230.7,1326.6 234.0,1312.0 238.0,1311.0 240.5,1312.1 243.0,1309.0 245.5,1317.3 248.0,1331.6 251.2,1330.6 254.4,1321.0 257.7,1322.8 261.0,1321.0 263.6,1338.0 267.0,1333.0 269.4,1346.0 272.9,1345.8 276.5,1334.6 280.0,1335.0 282.0,1355.4 285.0,1345.0 288.0,1324.0 290.5,1323.7 293.0,1326.0 296.0,1327.0 298.0,1341.0 301.0,1337.2 304.0,1325.0 307.0,1340.0 309.7,1329.9 312.4,1327.0 315.2,1345.4 318.0,1356.0 321.0,1354.0 325.0,1324.0 327.6,1361.6 330.0,1357.7 332.4,1347.0 335.2,1354.7 338.0,1356.0 340.8,1341.2 343.6,1319.6 348.0,1359.0 351.2,1352.0 354.4,1337.0 357.0,1363.4 359.7,1358.5 362.4,1348.0 366.0,1352.0 368.9,1342.7 371.8,1346.5 374.7,1333.7 377.6,1332.0 382.0,1332.0 386.0,1348.4 388.8,1333.1 391.6,1328.0 394.3,1341.2 397.0,1347.0 400.0,1337.0 403.3,1342.1 406.7,1361.9 410.0,1366.4 412.8,1366.1 415.5,1351.1 418.2,1353.9 421.0,1345.0 423.5,1344.4 426.0,1350.0 430.0,1347.0 433.0,1353.0 437.0,1313.0 441.6,1362.4 444.5,1350.9 447.3,1352.1 450.1,1337.5 453.0,1333.0 456.5,1350.2 460.0,1357.6 463.0,1350.5 466.0,1337.0 470.0,1353.0 473.0,1339.6 476.0,1340.3 479.0,1327.0 481.6,1366.0 485.5,1352.5 489.4,1331.0 494.0,1366.4 498.0,1340.0 502.4,1367.6 506.0,1332.0 509.5,1340.6 513.0,1359.0 515.8,1345.7 518.6,1340.0 521.3,1353.6 524.0,1361.6 526.8,1361.8 529.6,1348.1 532.4,1349.0 535.8,1341.7 539.2,1345.2 542.6,1334.4 546.0,1335.0 549.3,1334.5 552.7,1346.3 556.0,1346.4 559.2,1339.2 562.5,1342.9 565.8,1329.5 569.0,1331.0 571.6,1351.6 575.0,1342.2 578.3,1344.3 581.6,1331.1 585.0,1330.0 587.8,1338.9 590.6,1353.4 593.3,1332.7 596.0,1322.0 600.0,1342.0 603.5,1318.7 607.0,1305.0 609.5,1310.8 612.0,1325.0 614.5,1308.1 617.0,1299.0 620.0,1316.1 623.0,1323.0 625.5,1312.7 628.0,1309.0 630.0,1312.0 633.0,1301.6 636.0,1299.0 638.0,1320.0 640.5,1315.7 643.0,1304.0 646.5,1303.9 650.0,1309.0 653.0,1318.7 656.0,1336.4 660.0,1311.0 663.3,1324.9 666.7,1328.8 670.0,1342.6 673.0,1326.7 676.0,1321.0 678.5,1327.6 681.0,1344.0 683.5,1343.4 686.0,1346.0 688.7,1340.5 691.3,1343.4 694.0,1339.0 697.0,1346.7 700.0,1349.6 702.5,1344.7 705.0,1344.0 709.0,1359.0 712.0,1358.0 715.0,1350.0 718.0,1363.2 721.0,1370.6 723.5,1363.3 726.0,1347.6 730.0,1350.0 732.5,1350.0 735.0,1346.4 739.0,1367.6 742.0,1349.4 745.0,1342.8 748.0,1325.0 750.0,1345.0 754.0,1336.0 757.6,1350.0 760.3,1334.8 763.0,1314.0 765.7,1328.2 768.3,1331.4 771.0,1345.0 773.7,1340.1 776.3,1320.6 779.0,1314.6 781.9,1323.1 784.7,1318.5 787.6,1327.6 790.0,1304.0 792.5,1312.5 795.0,1316.0 798.0,1313.7 801.0,1302.0 804.0,1312.8 807.0,1309.7 810.0,1320.4 814.0,1310.0 817.5,1309.1 821.0,1311.0 823.8,1318.5 826.6,1340.1 829.4,1348.4 832.6,1306.0 836.1,1321.9 839.5,1324.8 843.0,1340.0 845.7,1323.9 848.4,1315.0 851.3,1326.6 854.1,1347.5 857.0,1358.4 859.5,1347.1 862.0,1345.6 866.0,1351.0 869.0,1351.0 872.0,1344.0 875.0,1354.4 877.7,1350.5 880.4,1336.0 883.9,1342.1 887.5,1359.4 891.0,1366.0 893.8,1361.5 896.6,1343.8 899.4,1337.0 904.0,1360.0 906.7,1356.9 909.3,1360.6 912.0,1358.0 915.0,1374.6 917.8,1374.3 920.5,1358.4 923.2,1363.1 926.0,1353.0 928.5,1365.0 931.0,1384.6 934.7,1374.6 938.4,1358.0 940.4,1382.0 943.7,1384.6 947.0,1394.6 949.8,1388.6 952.5,1371.9 955.2,1371.0 958.0,1358.4 961.3,1359.4 964.7,1354.7 968.0,1356.4 970.5,1367.7 973.0,1384.6 976.5,1381.7 979.9,1366.1 983.4,1365.0 988.0,1386.0 991.2,1372.3 994.4,1366.0 999.0,1388.0 1002.0,1386.2 1005.0,1376.0 1007.5,1377.2 1010.0,1388.0 1013.3,1386.2 1016.7,1369.4 1020.0,1367.0 1023.0,1368.2 1026.0,1358.4 1029.0,1358.0 1031.7,1369.5 1034.4,1387.0 1037.5,1387.7 1040.6,1374.5 1043.8,1378.0 1046.9,1364.2 1050.0,1364.0 1052.5,1369.2 1055.0,1382.0 1057.7,1376.8 1060.3,1359.3 1063.0,1355.6 1066.0,1385.0 1068.7,1372.6 1071.3,1376.2 1074.0,1364.0 1078.0,1384.0 1082.0,1346.4 1085.0,1377.5 1088.0,1400.0 1090.8,1391.4 1093.5,1374.0 1096.2,1370.6 1099.0,1354.0 1101.7,1351.6 1104.3,1354.8 1107.0,1353.0 1109.9,1357.6 1112.7,1375.7 1115.6,1381.4 1118.8,1356.0 1122.0,1337.4 1126.0,1363.0 1128.5,1361.2 1131.0,1354.0 1135.0,1376.4 1137.7,1361.3 1140.3,1360.1 1143.0,1344.0 1145.7,1358.3 1148.3,1360.7 1151.0,1376.4 1155.0,1344.0 1157.5,1353.7 1160.0,1369.0 1162.5,1357.5 1165.0,1352.0 1167.5,1354.6 1170.0,1353.0 1173.0,1346.9 1176.0,1334.0 1178.5,1334.8 1181.0,1341.0 1182.0,1327.0 1185.3,1330.1 1188.7,1327.8 1192.0,1331.0 1195.0,1318.5 1198.0,1312.0 1202.0,1314.0 1205.0,1288.0 1207.5,1289.2 1210.0,1296.0 1212.0,1251.0 1214.7,1250.3 1217.3,1262.7 1220.0,1263.6 1222.0,1230.0 1224.0,1190.0 1228.0,1174.0 1233.0,1191.0 1235.0,1156.0 1237.0,1134.0 1241.0,1110.0 1242.4,1090.0 1246.0,1040.0 1248.0,1000.0 1250.0,972.0 1254.0,979.0 1257.0,940.0 1259.0,915.0 1263.6,941.0 1265.0,900.0 1271.0,888.0 1272.0,940.0 1274.0,970.0 1278.0,986.0 1281.0,1020.0 1284.0,1032.0 1288.0,1060.0 1290.0,1090.0 1292.0,1130.0 1295.0,1170.0 1297.0,1204.0 1302.0,1214.0 1305.0,1250.0 1308.0,1276.0 1314.0,1263.0 1318.0,1309.6 1321.2,1296.4 1324.4,1275.0 1329.0,1332.4 1331.5,1330.1 1334.0,1319.0 1338.0,1329.0 1341.5,1350.5 1345.0,1366.4 1347.7,1350.7 1350.3,1346.5 1353.0,1330.0 1356.5,1348.1 1360.0,1359.0 1362.5,1360.1 1365.0,1356.0 1367.0,1375.0 1370.5,1376.8 1374.0,1389.4 1377.4,1378.0 1380.0,1389.0 1382.0,1342.0 1384.7,1352.7 1387.3,1352.2 1390.0,1364.0 1393.0,1386.6 1396.0,1368.0 1400.0,1378.0 1403.0,1367.4 1406.0,1365.0 1408.7,1367.2 1411.3,1382.1 1414.0,1385.4 1416.9,1373.0 1419.7,1371.2 1422.6,1359.0 1425.3,1374.5 1428.0,1383.0 1430.7,1374.9 1433.3,1378.7 1436.0,1370.0 1438.5,1371.1 1441.0,1382.0 1444.0,1354.0 1447.5,1368.9 1450.9,1373.0 1454.4,1388.0 1457.7,1380.1 1461.0,1362.0 1464.0,1361.0 1467.0,1366.0 1470.0,1362.7 1473.0,1366.0 1475.7,1366.1 1478.3,1377.9 1481.0,1379.0 1484.0,1378.5 1487.0,1374.0 1491.0,1398.4 1493.8,1397.1 1496.5,1384.3 1499.2,1384.6 1502.0,1376.0 1505.3,1376.4 1508.7,1386.3 1512.0,1385.6 1515.0,1372.7 1518.0,1349.6 1520.5,1370.1 1523.0,1382.4 1525.5,1367.7 1528.0,1359.0 1531.0,1372.0 1534.0,1366.9 1537.0,1366.0 1541.6,1375.4 1545.0,1342.0 1548.7,1354.2 1552.4,1377.4 1556.2,1358.6 1560.0,1347.0 1563.6,1376.4 1566.0,1347.6 1569.8,1359.8 1573.6,1363.6 1580.0,1326.0 1585.0,1324.0 1587.5,1322.0 1590.0,1323.0 1594.4,1289.0 1598.0,1307.0 1601.0,1298.3 1604.0,1301.1 1607.0,1287.4 1610.0,1288.2 1613.0,1279.0 1616.0,1280.3 1619.0,1290.4 1621.7,1273.5 1624.3,1271.6 1627.0,1255.0 1630.7,1277.1 1634.4,1305.6 1637.2,1299.7 1640.0,1287.4 1643.3,1294.3 1646.7,1313.9 1650.0,1322.0 1653.0,1312.0 1655.7,1333.1 1658.4,1343.4 1661.0,1322.7 1663.6,1310.6 1666.3,1315.4 1669.0,1330.4 1671.8,1325.1 1674.6,1308.5 1677.4,1303.0 1682.0,1335.4 1685.0,1330.5 1688.0,1320.0 1692.0,1325.0 1695.2,1313.1 1698.4,1309.0 1701.0,1344.4 1704.5,1318.3 1708.0,1298.0 1712.4,1321.0 1716.4,1275.0 1721.0,1290.0 1723.6,1275.0 1727.3,1285.8 1731.0,1290.4 1734.0,1272.7 1737.0,1248.0 1740.0,1250.4 1743.0,1259.6 1746.6,1243.0 1750.1,1253.9 1753.5,1252.5 1757.0,1262.4 1759.7,1258.1 1762.3,1241.3 1765.0,1237.0 1767.5,1248.7 1770.0,1268.4 1773.0,1266.4 1776.0,1268.0 1778.0,1271.6 1780.5,1270.3 1783.0,1262.6 1786.0,1281.8 1789.0,1290.3 1792.0,1310.0 1796.0,1312.4 1799.2,1308.0 1802.4,1309.0 1806.0,1326.4 1809.0,1324.1 1812.0,1327.3 1815.0,1323.2 1818.0,1324.0 1821.3,1338.2 1824.7,1338.8 1828.0,1354.0 1831.0,1348.7 1834.0,1328.4 1837.0,1323.4 1840.0,1370.0 1843.5,1380.7 1847.0,1382.6 1849.6,1347.0 1852.8,1352.2 1856.0,1365.0 1859.3,1354.0 1862.7,1357.0 1866.0,1346.4 1869.3,1347.7 1872.7,1364.9 1876.0,1366.0 1880.0,1359.0 1884.0,1383.6 1886.7,1378.8 1889.3,1381.0 1892.0,1376.0 1894.7,1386.8 1897.3,1384.2 1900.0,1395.6 1902.8,1377.9 1905.6,1351.0 1908.3,1360.0 1911.0,1376.4 1913.8,1364.8 1916.5,1364.5 1919.2,1348.5 1922.0,1343.0 1924.5,1348.2 1927.0,1363.4 1930.5,1357.9 1934.0,1357.0 1937.0,1358.5 1940.0,1370.4 1943.0,1370.3 1946.0,1363.6 1949.8,1365.5 1953.6,1375.6 1957.0,1344.0 1961.0,1369.0 1963.7,1360.4 1966.3,1365.0 1969.0,1355.0 1971.5,1356.9 1974.0,1365.0 1977.4,1339.0 1980.3,1345.2 1983.1,1362.5 1986.0,1369.4 1988.0,1346.0 1990.7,1345.5 1993.3,1336.5 1996.0,1337.6 1999.5,1337.2 2003.0,1339.6 2006.0,1349.2 2009.0,1366.6 2011.7,1353.0 2014.3,1328.8 2017.0,1315.0 2021.0,1333.0 2023.5,1319.4 2026.0,1311.4 2029.5,1334.9 2033.0,1350.4 2036.5,1340.2 2040.0,1321.0 2042.0,1344.0 2045.3,1323.1 2048.7,1315.6 2052.0,1296.4 2055.0,1314.4 2058.5,1310.9 2062.0,1299.0 2067.0,1298.0"/>
</g>
<g fill="#000" shape-rendering="crispEdges"><rect x="1345" y="709" width="8" height="11"/><rect x="1345" y="739" width="8" height="11"/><rect x="1345" y="769" width="8" height="11"/><rect x="1345" y="799" width="8" height="11"/><rect x="1345" y="828" width="8" height="11"/><rect x="1345" y="858" width="8" height="11"/><rect x="1345" y="888" width="8" height="11"/><rect x="1345" y="918" width="8" height="11"/><rect x="1345" y="948" width="8" height="11"/><rect x="1345" y="978" width="8" height="11"/><rect x="1345" y="1008" width="8" height="11"/><rect x="1345" y="1037" width="8" height="11"/><rect x="1345" y="1067" width="8" height="11"/><rect x="1345" y="1097" width="8" height="11"/><rect x="1345" y="1127" width="8" height="11"/><rect x="1345" y="1157" width="8" height="11"/><rect x="1345" y="1187" width="8" height="11"/><rect x="1345" y="1216" width="8" height="11"/><rect x="1345" y="1246" width="8" height="11"/><rect x="1345" y="1276" width="8" height="11"/><rect x="1345" y="1306" width="8" height="11"/></g>
<text x="349.6" y="1497" font-size="58.33" text-anchor="middle">20</text>
<text x="662.0" y="1497" font-size="58.33" text-anchor="middle">22</text>
<text x="974.5" y="1497" font-size="58.33" text-anchor="middle">24</text>
<text x="1287.0" y="1497" font-size="58.33" text-anchor="middle">26</text>
<text x="1599.5" y="1497" font-size="58.33" text-anchor="middle">28</text>
<text x="1912.0" y="1497" font-size="58.33" text-anchor="middle">30</text>
<text x="962" y="1614" font-size="71" xml:space="preserve">2<tspan font-family="Liberation Serif,serif" dx="1">θ</tspan><tspan dx="3.5"> /degree</tspan></text>
<text transform="translate(85,970.5) rotate(-90)" font-size="83.8" x="0" y="0">Intensity (a.u)</text>
<text transform="translate(335,273) rotate(-90)" font-size="71.6" x="0" y="0">500</text>
<text x="634" y="218.5" font-size="71.6" xml:space="preserve">G  : graphite</text>
<text x="1324" y="677.5" font-size="71.6">G</text>
<text x="1594" y="141" font-size="58.33">10Ni/HAP-NP</text>
<text x="1595" y="213.5" font-size="58.33">5Ni/HAP-NP</text>
<text x="1594.5" y="286" font-size="58.33">0.5Ni<tspan font-size="33" dy="19">1</tspan><tspan dy="-19">/HAP-SAC</tspan></text>
<text x="1595" y="373" font-size="58.33">HAP</text>
</svg></body></html>
